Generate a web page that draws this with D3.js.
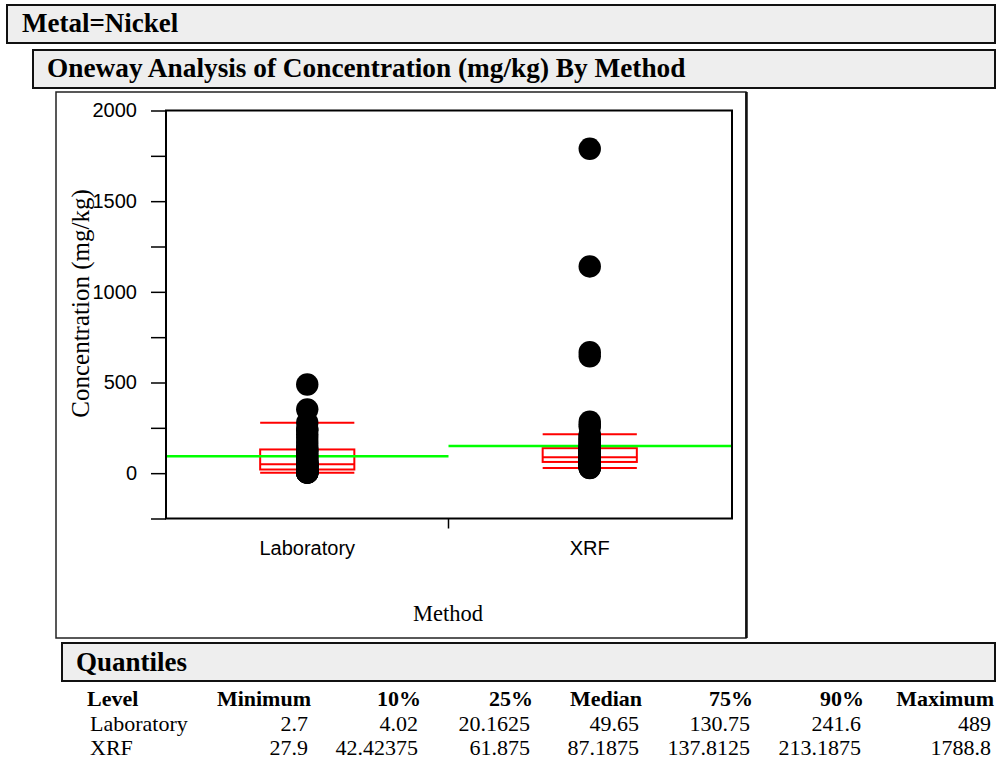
<!DOCTYPE html>
<html>
<head>
<meta charset="utf-8">
<script src="https://cdn.jsdelivr.net/npm/d3@7"></script>
<style>
  body { margin: 0; background: #fff; }
  svg { display: block; }
</style>
</head>
<body>
<svg id="chart" width="996" height="766"></svg>
<script>
// ---- data ----
const methods = ["Laboratory", "XRF"];

// Nickel concentrations (mg/kg) by method
const labValues = [
  2.7, 2.9, 3.5, 4.0, 4.1, 5.2, 8.4, 12.0, 16.5, 19.8,
  20.525, 25.0, 28.6, 33.1, 37.4, 41.0, 44.8, 47.5, 48.6, 49.0,
  49.65, 53.2, 58.7, 64.0, 71.5, 80.2, 88.9, 97.0, 108.5, 120.0,
  128.0, 133.5, 152.0, 171.3, 196.0, 214.0, 236.0, 243.0, 278.0, 352.0,
  489.0
];
const xrfValues = [
  27.9, 29.4, 31.0, 33.6, 36.2, 38.5, 40.3, 42.1, 45.0, 46.8,
  48.2, 49.9, 51.5, 53.0, 54.6, 56.1, 57.4, 58.9, 60.2, 61.5,
  63.0, 64.4, 66.1, 67.5, 69.0, 70.8, 72.3, 73.9, 75.4, 77.0,
  78.6, 79.9, 81.2, 82.5, 83.7, 84.6, 85.3, 85.9, 86.4, 86.8,
  87.575, 89.0, 91.2, 93.5, 96.1, 98.8, 101.5, 104.7, 107.9, 110.6,
  113.8, 116.4, 119.5, 122.3, 125.0, 127.6, 130.2, 132.5, 134.6, 136.5,
  138.25, 142.0, 147.5, 153.0, 159.0, 165.5, 172.0, 178.0, 185.0, 192.0,
  198.0, 205.875, 214.0, 256.0, 268.0, 284.0, 645.0, 667.0, 1140.0, 1788.8
];

// Quantiles table
const quantileHeaders = ["Level", "Minimum", "10%", "25%", "Median", "75%", "90%", "Maximum"];
const labQuantiles = [2.7, 4.02, 20.1625, 49.65, 130.75, 241.6, 489];
const xrfQuantiles = [27.9, 42.42375, 61.875, 87.1875, 137.8125, 213.1875, 1788.8];

// Axis ticks
const yTicks = [-250, 0, 250, 500, 750, 1000, 1250, 1500, 1750, 2000];
const yTickLabels = [0, 500, 1000, 1500, 2000];

// ---- drawing ----
const groups = [
  { name: methods[0], values: labValues, q: labQuantiles },
  { name: methods[1], values: xrfValues, q: xrfQuantiles }
];

const serif = "'Liberation Serif','Times New Roman',Times,serif";
const sans = "'Liberation Sans',Arial,Helvetica,sans-serif";
const svg = d3.select("#chart");

// Report outline boxes with grey title bars
function titleBar(x0, y0, x1, y1, label, tx, ty, fs) {
  svg.append("rect")
    .attr("x", x0).attr("y", y0).attr("width", x1 - x0).attr("height", y1 - y0)
    .attr("fill", "#eeeeee").attr("stroke", "#111").attr("stroke-width", 2);
  svg.append("text")
    .attr("x", tx).attr("y", ty)
    .attr("font-family", serif).attr("font-weight", "bold").attr("font-size", fs)
    .attr("fill", "#000").text(label);
}
titleBar(7, 5, 995, 43, "Metal=Nickel", 22, 32, 27);
titleBar(33, 50, 995, 88, "Oneway Analysis of Concentration (mg/kg) By Method", 47, 77, 27.3);

// Outer frame of the graph
svg.append("rect")
  .attr("x", 56).attr("y", 92).attr("width", 690).attr("height", 546)
  .attr("fill", "#fff").attr("stroke", "#222").attr("stroke-width", 1.5);
svg.append("line")
  .attr("x1", 746.5).attr("x2", 746.5).attr("y1", 92).attr("y2", 638)
  .attr("stroke", "#111").attr("stroke-width", 2.5);

const frame = { left: 166, right: 732, top: 110.5, bottom: 518.5 };

const y = d3.scaleLinear().domain([-250, 2000]).range([frame.bottom, frame.top]);
const x = d3.scaleBand().domain(methods).range([frame.left, frame.right - 1]);
const bw = x.bandwidth();

// Y axis
const yAxis = svg.append("g")
  .attr("transform", `translate(${frame.left},0)`)
  .call(d3.axisLeft(y)
    .tickValues(yTicks)
    .tickSize(15)
    .tickSizeOuter(0)
    .tickPadding(14)
    .tickFormat(d => yTickLabels.includes(d) ? d3.format("d")(d) : ""));
yAxis.select(".domain").remove();
yAxis.selectAll(".tick line").attr("stroke", "#000").attr("stroke-width", 1.5);
yAxis.selectAll(".tick text")
  .attr("font-family", sans).attr("font-size", 20).attr("fill", "#000");

// X axis: category labels and the divider tick between groups
const xAxis = svg.append("g")
  .attr("transform", `translate(0,${frame.bottom})`)
  .call(d3.axisBottom(x).tickSize(0).tickPadding(22));
xAxis.select(".domain").remove();
xAxis.selectAll(".tick text")
  .attr("font-family", sans).attr("font-size", 20).attr("fill", "#000");
svg.append("line")
  .attr("x1", x(methods[1])).attr("x2", x(methods[1]))
  .attr("y1", frame.bottom).attr("y2", frame.bottom + 10)
  .attr("stroke", "#000").attr("stroke-width", 1.5);

// Axis titles
svg.append("text")
  .attr("transform", `translate(89,${(frame.top + frame.bottom) / 2 - 11}) rotate(-90)`)
  .attr("text-anchor", "middle")
  .attr("font-family", serif).attr("font-size", 25).attr("fill", "#000")
  .text("Concentration (mg/kg)");
svg.append("text")
  .attr("x", (frame.left + frame.right) / 2 - 1).attr("y", 621)
  .attr("text-anchor", "middle")
  .attr("font-family", serif).attr("font-size", 22.5).attr("fill", "#000")
  .text("Method");

const plot = svg.append("g");

// Outlier box plots (red)
groups.forEach(g => {
  const cx = x(g.name) + bw / 2;
  const half = bw / 6;
  const q1 = g.q[2], med = g.q[3], q3 = g.q[4];
  const iqr = q3 - q1;
  const hi = d3.max(g.values.filter(v => v <= q3 + 1.5 * iqr));
  const lo = d3.min(g.values.filter(v => v >= q1 - 1.5 * iqr));
  const red = "#ff0000";
  plot.append("rect")
    .attr("x", cx - half).attr("width", 2 * half)
    .attr("y", y(q3)).attr("height", y(q1) - y(q3))
    .attr("fill", "none").attr("stroke", red).attr("stroke-width", 2);
  [med, hi, lo].forEach(v => {
    plot.append("line")
      .attr("x1", cx - half).attr("x2", cx + half)
      .attr("y1", y(v)).attr("y2", y(v))
      .attr("stroke", red).attr("stroke-width", 2);
  });
  plot.append("line")
    .attr("x1", cx).attr("x2", cx)
    .attr("y1", y(hi)).attr("y2", y(lo))
    .attr("stroke", red).attr("stroke-width", 1.5);
});

// Group means (green)
groups.forEach(g => {
  const m = d3.mean(g.values);
  plot.append("line")
    .attr("x1", x(g.name)).attr("x2", x(g.name) + bw + (g.name === methods[1] ? 1 : 0))
    .attr("y1", y(m)).attr("y2", y(m))
    .attr("stroke", "#00ff00").attr("stroke-width", 2.5);
});

// Observations
groups.forEach(g => {
  plot.selectAll(null)
    .data(g.values)
    .enter().append("circle")
    .attr("cx", x(g.name) + bw / 2)
    .attr("cy", d => y(d))
    .attr("r", 11.2)
    .attr("fill", "#000");
});

// Inner plot frame
svg.append("rect")
  .attr("x", frame.left).attr("y", frame.top)
  .attr("width", frame.right - frame.left).attr("height", frame.bottom - frame.top)
  .attr("fill", "none").attr("stroke", "#000").attr("stroke-width", 2);

// Quantiles report
titleBar(62, 643, 995, 681, "Quantiles", 76, 671, 27);

const colRight = [null, 311, 421, 533, 642, 753, 864, 994];
const rowBase = [706, 731, 755];
const table = svg.append("g").attr("font-family", serif).attr("font-size", 22).attr("fill", "#000");
quantileHeaders.forEach((h, i) => {
  table.append("text")
    .attr("x", i === 0 ? 87 : colRight[i]).attr("y", rowBase[0])
    .attr("text-anchor", i === 0 ? "start" : "end")
    .attr("font-weight", "bold").text(h);
});
groups.forEach((g, r) => {
  table.append("text").attr("x", 90).attr("y", rowBase[r + 1]).text(g.name);
  g.q.forEach((v, i) => {
    table.append("text")
      .attr("x", colRight[i + 1] - 3).attr("y", rowBase[r + 1])
      .attr("text-anchor", "end").text(String(v));
  });
});
</script>
</body>
</html>
